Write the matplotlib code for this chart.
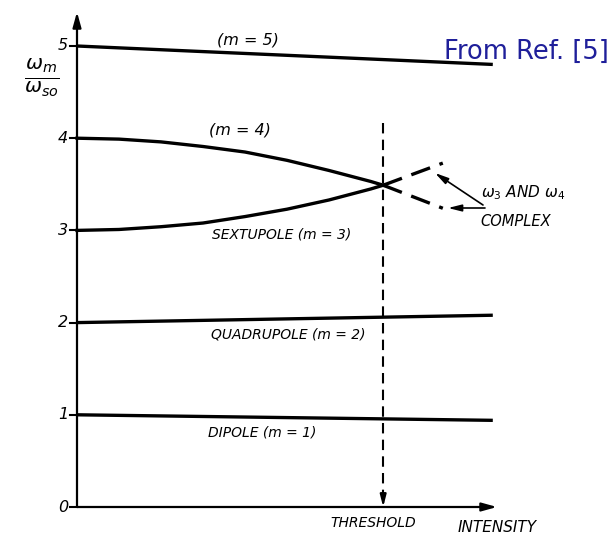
import matplotlib
matplotlib.use("Agg")
import matplotlib.pyplot as plt

# ---- data (x: intensity, normalised so threshold ~0.73, axis end = 1) ----
x_end = 0.99
threshold = 0.729
y_ticks = [0, 1, 2, 3, 4, 5]
y_tick_labels = ["0", "1", "2", "3", "4", "5"]

m5_x = [0.0, x_end]
m5_y = [5.0, 4.80]
m2_x = [0.0, x_end]
m2_y = [2.0, 2.08]
m1_x = [0.0, x_end]
m1_y = [1.0, 0.94]

m34_x = [0.0, 0.1, 0.2, 0.3, 0.4, 0.5, 0.6, 0.7, 0.729]
m4_y = [4.00, 3.99, 3.96, 3.91, 3.85, 3.76, 3.65, 3.53, 3.49]
m3_y = [3.00, 3.01, 3.04, 3.08, 3.15, 3.23, 3.33, 3.45, 3.49]

cplx_x = [0.729, 0.871]
cplx_upper = [3.49, 3.73]
cplx_lower = [3.49, 3.24]

W, H = 611, 536
fig = plt.figure(figsize=(W / 100, H / 100), dpi=100)
ax = fig.add_axes([0, 0, 1, 1])
px_x = 420.0   # px per x unit
px_y = 92.2    # px per y unit
x0_px, y0_px = 77, 507
ax.set_xlim(-x0_px / px_x, (W - x0_px) / px_x)
ax.set_ylim(-(H - y0_px) / px_y, y0_px / px_y)
ax.axis("off")

def px2d(px, py):
    return ((px - x0_px) / px_x, (y0_px - py) / px_y)

lw = 2.4
k = "black"
ax.plot(m5_x, m5_y, color=k, lw=lw, solid_capstyle="butt")
ax.plot(m2_x, m2_y, color=k, lw=lw, solid_capstyle="butt")
ax.plot(m1_x, m1_y, color=k, lw=lw, solid_capstyle="butt")
ax.plot(m34_x, m4_y, color=k, lw=lw)
ax.plot(m34_x, m3_y, color=k, lw=lw)
ax.plot(cplx_x, cplx_upper, color=k, lw=lw, dashes=(6, 3))
ax.plot(cplx_x, cplx_lower, color=k, lw=lw, dashes=(6, 3))

# axes with arrows
ytop = px2d(0, 12)[1]
ax.annotate("", xy=(0, ytop), xytext=(0, 0),
            arrowprops=dict(arrowstyle="-|>,head_length=0.9,head_width=0.25",
                            color=k, lw=1.6, shrinkA=0, shrinkB=0))
ax.annotate("", xy=(1.0, 0), xytext=(0, 0),
            arrowprops=dict(arrowstyle="-|>,head_length=0.9,head_width=0.25",
                            color=k, lw=1.6, shrinkA=0, shrinkB=0))
# threshold dashed line with arrow
ytop_thr = px2d(0, 123)[1]
ax.plot([threshold, threshold], [ytop_thr, 0.12], color=k, lw=1.5, dashes=(5, 3))
ax.annotate("", xy=(threshold, 0.0), xytext=(threshold, 0.15),
            arrowprops=dict(arrowstyle="-|>,head_length=0.7,head_width=0.18",
                            color=k, lw=1.5, shrinkA=0, shrinkB=0))

# ticks
tick_len = 7 / px_x
for t, lab in zip(y_ticks, y_tick_labels):
    ax.plot([-tick_len, 0], [t, t], color=k, lw=1.5)
    ax.text(-tick_len - 2 / px_x, t, lab, ha="right", va="center",
            fontsize=11.5, style="italic", family="DejaVu Sans")

# y label
lx, ly = px2d(42, 78)
ax.text(lx, ly, r"$\frac{\omega_m}{\omega_{so}}$", ha="center", va="center",
        fontsize=21)

def lab(px, py, s, ha="center", fs=10):
    x, y = px2d(px, py)
    ax.text(x, y, s, ha=ha, va="center", fontsize=fs, style="italic",
            family="DejaVu Sans")

lab(248, 40, "(m = 5)", fs=11.5)
lab(240, 130, "(m = 4)", fs=11.5)
lab(282, 234, "SEXTUPOLE (m = 3)")
lab(288, 335, "QUADRUPOLE (m = 2)")
lab(262, 433, "DIPOLE (m = 1)")
lab(373, 523, "THRESHOLD")
lab(497, 527, "INTENSITY", fs=11)
x, y = px2d(481, 193)
ax.text(x, y, r"$\omega_3$ AND $\omega_4$", ha="left", va="center",
        fontsize=11, style="italic", family="DejaVu Sans")
lab(480, 222, "COMPLEX", ha="left", fs=10.5)

# arrows from the annotation
src = px2d(483, 205)
ax.annotate("", xy=px2d(435, 173), xytext=src,
            arrowprops=dict(arrowstyle="-|>,head_length=0.8,head_width=0.2",
                            color=k, lw=1.2, shrinkA=0, shrinkB=0))
ax.annotate("", xy=px2d(448, 208), xytext=px2d(485, 208),
            arrowprops=dict(arrowstyle="-|>,head_length=0.8,head_width=0.2",
                            color=k, lw=1.2, shrinkA=0, shrinkB=0))

fx, fy = px2d(609, 52)
ax.text(fx, fy, "From Ref. [5]", ha="right", va="center", fontsize=18.5,
        color="#1f1f9a", family="DejaVu Sans")

fig.savefig("out.png", dpi=100)
